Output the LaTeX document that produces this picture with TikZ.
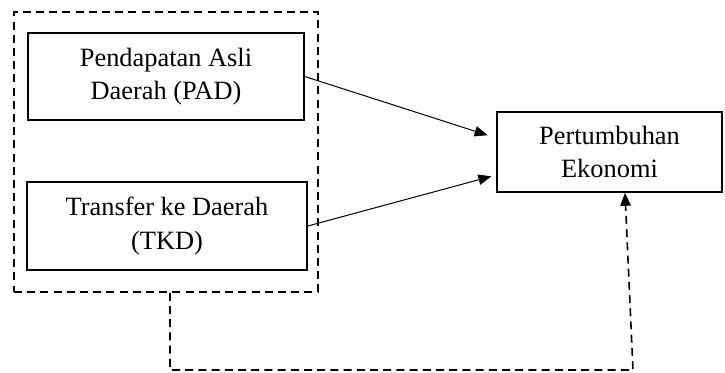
\documentclass[tikz,border=0pt]{standalone}
\usepackage{fontspec}
\setmainfont{Liberation Serif}
\usepackage{tikz}
\usetikzlibrary{arrows.meta,positioning}

\begin{document}
\begin{tikzpicture}[x=0.5pt, y=-0.5pt,
    box/.style={rectangle, draw, line width=0.8pt, inner sep=0pt, align=center,
        font=\fontsize{13.2}{16.8}\selectfont},
    groupbox/.style={rectangle, draw, line width=0.8pt, dash pattern=on 4pt off 2.6pt, inner sep=0pt},
    link/.style={line width=0.5pt, -{Triangle[length=6.5pt, width=5.2pt]}},
    feedback/.style={line width=0.8pt, dash pattern=on 4pt off 2.6pt, -{Triangle[length=6.5pt, width=5.2pt]}}]
    \useasboundingbox (0,0) rectangle (725,372);

    % Dashed group round the two sources
    \node[groupbox, minimum width=152pt, minimum height=140pt] (group) at (166,152) {};

    % Source boxes
    \node[box, minimum width=138pt, minimum height=43.5pt] (pad) at (166,76.5) {
        Pendapatan Asli\\
        Daerah (PAD)
    };

    \node[box, minimum width=140pt, minimum height=44pt] (tkd) at (167,226) {
        Transfer ke Daerah\\
        (TKD)
    };

    % Target box
    \node[box, minimum width=112.5pt, minimum height=40pt] (growth) at (609.5,152) {
        Pertumbuhan\\
        Ekonomi
    };

    % Direct arrows
    \draw[link, shorten >=4.5pt] (pad.east) -- ([yshift=7pt]growth.west);
    \draw[link, shorten >=2.5pt] (tkd.east) -- ([yshift=-11.5pt]growth.west);

    % Joint effect, dashed path below
    \coordinate (fbleft) at (170,370);
    \coordinate (fbright) at (633,370);
    \draw[feedback] (group.south -| fbleft) -- (fbleft) -- (fbright) -- ([xshift=7.75pt]growth.south);

\end{tikzpicture}
\end{document}
